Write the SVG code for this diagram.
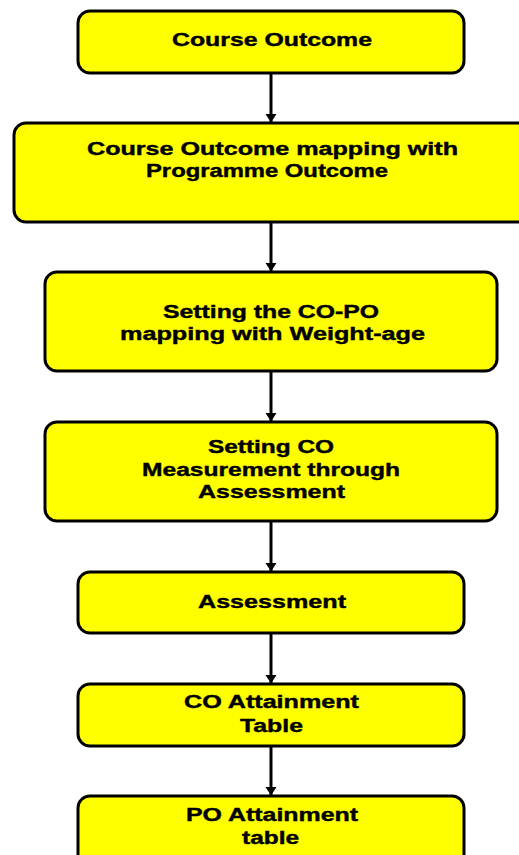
<svg xmlns="http://www.w3.org/2000/svg" width="519" height="855" viewBox="0 0 519 855">
<style>
.box{fill:#ffff00;stroke:#000;stroke-width:3}
.t{font-family:"Liberation Sans",Arial,sans-serif;font-weight:bold;font-size:18px;fill:#000;stroke:#000;stroke-width:0.4;text-anchor:middle}
.c{stroke:#000;stroke-width:3;fill:none;marker-end:url(#ah)}
</style>
<defs>
<marker id="ah" markerWidth="9" markerHeight="12" refX="8" refY="5.5" orient="auto" markerUnits="userSpaceOnUse" viewBox="0 0 9 11">
<path d="M0,0 L8.5,5.5 L0,11 Z" fill="#000"/>
</marker>
</defs>
<rect width="519" height="855" fill="#fff"/>
<g id="connectors">
<line class="c" x1="271" y1="73" x2="271" y2="122"/>
<line class="c" x1="271" y1="222" x2="271" y2="271"/>
<line class="c" x1="271" y1="372" x2="271" y2="421"/>
<line class="c" x1="271" y1="521" x2="271" y2="571"/>
<line class="c" x1="271" y1="633" x2="271" y2="683"/>
<line class="c" x1="271" y1="746" x2="271" y2="795"/>
</g>
<g id="n1">
<rect class="box" x="78" y="11" width="386" height="62" rx="12"/>
<text class="t" x="272" y="46" textLength="200" lengthAdjust="spacingAndGlyphs">Course Outcome</text>
</g>
<g id="n2">
<rect class="box" x="14" y="123" width="520" height="99" rx="12"/>
<text class="t" x="272.5" y="155" textLength="371" lengthAdjust="spacingAndGlyphs">Course Outcome mapping with</text>
<text class="t" x="267" y="177" textLength="242" lengthAdjust="spacingAndGlyphs">Programme Outcome</text>
</g>
<g id="n3">
<rect class="box" x="45" y="272" width="452" height="99" rx="12"/>
<text class="t" x="271" y="318" textLength="216" lengthAdjust="spacingAndGlyphs">Setting the CO-PO</text>
<text class="t" x="272.5" y="340" textLength="305" lengthAdjust="spacingAndGlyphs">mapping with Weight-age</text>
</g>
<g id="n4">
<rect class="box" x="45" y="422" width="452" height="99" rx="12"/>
<text class="t" x="271" y="453" textLength="126" lengthAdjust="spacingAndGlyphs">Setting CO</text>
<text class="t" x="271" y="476" textLength="258" lengthAdjust="spacingAndGlyphs">Measurement through</text>
<text class="t" x="271.5" y="498" textLength="147" lengthAdjust="spacingAndGlyphs">Assessment</text>
</g>
<g id="n5">
<rect class="box" x="78" y="572" width="386" height="61" rx="12"/>
<text class="t" x="272" y="608" textLength="148" lengthAdjust="spacingAndGlyphs">Assessment</text>
</g>
<g id="n6">
<rect class="box" x="78" y="684" width="386" height="62" rx="12"/>
<text class="t" x="271.5" y="708" textLength="175" lengthAdjust="spacingAndGlyphs">CO Attainment</text>
<text class="t" x="271.5" y="732" textLength="63" lengthAdjust="spacingAndGlyphs">Table</text>
</g>
<g id="n7">
<rect class="box" x="78" y="796" width="386" height="70" rx="12"/>
<text class="t" x="272" y="821" textLength="172" lengthAdjust="spacingAndGlyphs">PO Attainment</text>
<text class="t" x="270.5" y="844" textLength="57" lengthAdjust="spacingAndGlyphs">table</text>
</g>
</svg>
